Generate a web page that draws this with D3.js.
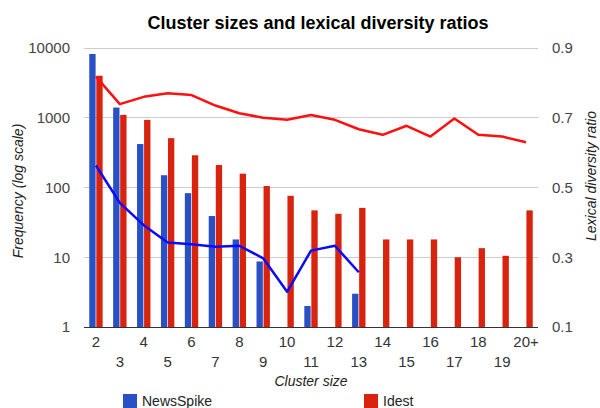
<!DOCTYPE html>
<html><head><meta charset="utf-8">
<script src="https://cdn.jsdelivr.net/npm/d3@7/dist/d3.min.js"></script>
<style>body{margin:0;background:#fff;} text{font-family:Arial,"Liberation Sans",sans-serif;}</style>
</head><body><svg id="c" width="600" height="408"></svg>
<script>
const categories = ["2","3","4","5","6","7","8","9","10","11","12","13","14","15","16","17","18","19","20+"];
const newsSpikeFreq = [8200,1400,420,150,83,39,18,8.7,null,2,null,3,null,null,null,null,null,null,null];
const idestFreq = [4000,1100,930,510,290,210,158,105,76,47,42,51,18,18,18,10,13.5,10.5,47];
const newsSpikeRatio = [0.563,0.456,0.392,0.342,0.337,0.330,0.333,0.297,0.201,0.319,0.333,0.257];
const idestRatio = [0.818,0.739,0.760,0.770,0.765,0.735,0.713,0.700,0.694,0.708,0.694,0.667,0.651,0.677,0.646,0.698,0.651,0.646,0.630];
const leftTicks = [1,10,100,1000,10000];
const rightTicks = [0.1,0.3,0.5,0.7,0.9];
const seriesNames = ["NewsSpike","Idest"];

const svg = d3.select("#c");
const L = 84, R = 538, T = 48, B = 327;
const x = d3.scaleBand().domain(categories).range([L, R]).padding(0);
const bw = x.bandwidth();
const x1 = d3.scaleBand().domain(seriesNames).range([bw*0.22, bw*0.78]).paddingInner(0.1);
const y = d3.scaleLog().domain([1,10000]).range([B, T]);
const y2 = d3.scaleLinear().domain([0.1,0.9]).range([B, T]);
const barColor = {NewsSpike:"#2a50c6", Idest:"#d8240f"};
const FONT = "Arial,'Liberation Sans',sans-serif";

// title
svg.append("text").attr("x",318).attr("y",29).attr("text-anchor","middle")
  .attr("font-size",18).attr("font-weight","bold").attr("fill","#000")
  .text("Cluster sizes and lexical diversity ratios");

// gridlines
svg.append("g").selectAll("line").data(leftTicks.slice(1)).join("line")
  .attr("x1",L).attr("x2",R).attr("y1",d=>y(d)).attr("y2",d=>y(d))
  .attr("stroke","#cccccc").attr("stroke-width",1).attr("shape-rendering","crispEdges");

// left axis
const la = svg.append("g").attr("transform",`translate(${L},0)`)
  .call(d3.axisLeft(y).tickValues(leftTicks).tickFormat(d3.format("d")).tickSize(0).tickPadding(14));
la.select(".domain").remove();
la.selectAll("text").attr("font-size",15).attr("fill","#444").attr("font-family",FONT);

// right axis
const ra = svg.append("g").attr("transform",`translate(${R},0)`)
  .call(d3.axisRight(y2).tickValues(rightTicks).tickFormat(d3.format(".1f")).tickSize(0).tickPadding(14));
ra.select(".domain").remove();
ra.selectAll("text").attr("font-size",15).attr("fill","#444").attr("font-family",FONT);

// bars
const data = [
  {name:"NewsSpike", vals:newsSpikeFreq},
  {name:"Idest", vals:idestFreq}
];
data.forEach(s=>{
  svg.append("g").selectAll("rect")
    .data(categories.map((c,i)=>({c, v:s.vals[i]})).filter(d=>d.v!=null))
    .join("rect")
    .attr("x",d=>x(d.c)+x1(s.name)).attr("width",x1.bandwidth())
    .attr("y",d=>y(d.v)).attr("height",d=>B-y(d.v))
    .attr("fill",barColor[s.name]);
});

// baseline
svg.append("line").attr("x1",L).attr("x2",R).attr("y1",B).attr("y2",B)
  .attr("stroke","#333").attr("stroke-width",1).attr("shape-rendering","crispEdges");

// lines
const line = d3.line().x(d=>x(d.c)+bw/2).y(d=>y2(d.v)).curve(d3.curveLinear);
svg.append("path").datum(idestRatio.map((v,i)=>({c:categories[i],v})))
  .attr("d",line).attr("fill","none").attr("stroke","#ff1010").attr("stroke-width",2.5).attr("stroke-linejoin","round");
svg.append("path").datum(newsSpikeRatio.map((v,i)=>({c:categories[i],v})))
  .attr("d",line).attr("fill","none").attr("stroke","#0a0aff").attr("stroke-width",2.5).attr("stroke-linejoin","round");

// x labels
svg.append("g").selectAll("text").data(categories).join("text")
  .attr("x",d=>x(d)+bw/2).attr("y",(d,i)=> i%2===0 ? 347 : 367)
  .attr("text-anchor","middle").attr("font-size",15).attr("fill","#333").text(d=>d);

// axis titles
svg.append("text").attr("x",311).attr("y",386).attr("text-anchor","middle")
  .attr("font-size",14).attr("font-style","italic").attr("fill","#222").text("Cluster size");
svg.append("text").attr("transform","translate(23,191) rotate(-90)").attr("text-anchor","middle")
  .attr("font-size",14).attr("font-style","italic").attr("fill","#222").text("Frequency (log scale)");
svg.append("text").attr("transform","translate(596,176) rotate(-90)").attr("text-anchor","middle")
  .attr("font-size",14).attr("font-style","italic").attr("fill","#222").text("Lexical diversity ratio");

// legend
const leg = [{name:"NewsSpike", x:123},{name:"Idest", x:364}];
leg.forEach(l=>{
  svg.append("rect").attr("x",l.x).attr("y",394).attr("width",14).attr("height",14).attr("fill",barColor[l.name]);
  svg.append("text").attr("x",l.x+19).attr("y",406).attr("font-size",14).attr("fill","#222").text(l.name);
});
</script></body></html>
